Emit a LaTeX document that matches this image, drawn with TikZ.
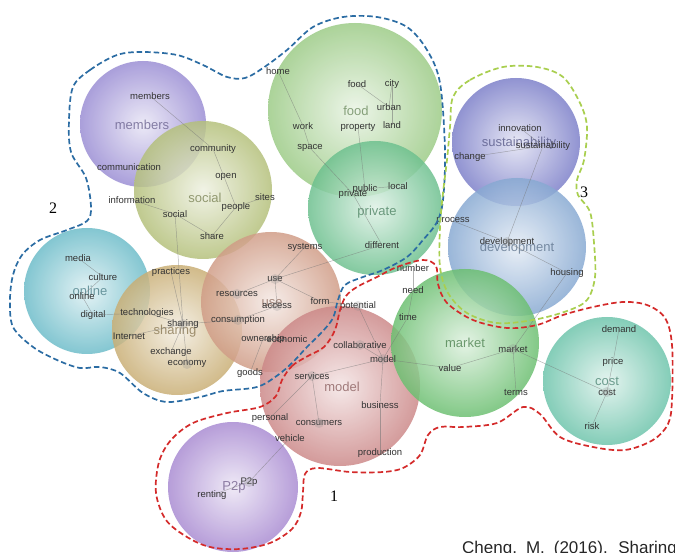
\documentclass[tikz,border=0pt]{standalone}
\usepackage{fontspec}
\setmainfont{Liberation Sans}
\newfontfamily\numfont{Liberation Serif}
\definecolor{cMem}{HTML}{9A8DD4}
\definecolor{cSoc}{HTML}{B4C07A}
\definecolor{cFood}{HTML}{9CCB86}
\definecolor{cPriv}{HTML}{6CC08E}
\definecolor{cSus}{HTML}{7C7FC9}
\definecolor{cDev}{HTML}{87A9D2}
\definecolor{cOnl}{HTML}{6CBCC9}
\definecolor{cShr}{HTML}{C9AE74}
\definecolor{cUse}{HTML}{D09C86}
\definecolor{cMod}{HTML}{CC8888}
\definecolor{cMkt}{HTML}{6BBF70}
\definecolor{cCost}{HTML}{6DC4AB}
\definecolor{cP2p}{HTML}{A98BD2}
\definecolor{dBlue}{HTML}{2B6CA3}
\definecolor{dRed}{HTML}{D42A2A}
\definecolor{dGreen}{HTML}{A9CF4F}
\tikzset{
  bub/.style 2 args={circle, inner sep=0pt, minimum size=#2*2pt, shade, inner color=#1!22!white, outer color=#1, fill opacity=0.84},
  lab/.style={font=\fontsize{9.5}{10}\selectfont, text=black!80, inner sep=0pt},
  big/.style={font=\fontsize{13}{14}\selectfont, inner sep=0pt, text=#1!65!black, text opacity=0.75},
  lnk/.style={draw=black!55, line width=0.45pt, opacity=0.55},
  hubdot/.style={fill=black!45, fill opacity=0.25},
  dsh/.style={line width=1.7pt, dash pattern=on 5.5pt off 3pt},
  num/.style={font=\numfont\fontsize{16}{18}\selectfont, inner sep=0pt},
}
\begin{document}
\begin{tikzpicture}[x=1pt, y=-1pt]
\useasboundingbox (0,0) rectangle (675,553);
\clip (0,0) rectangle (675,553);
\fill[white] (0,0) rectangle (675,553);
% bubbles
\node[bub={cFood}{87}] (Cfood) at (355,110) {};
\node[bub={cMem}{63}] (Cmem) at (143,124) {};
\node[bub={cSoc}{69}] (Csoc) at (203,190) {};
\node[bub={cPriv}{67}] (Cpriv) at (375,208) {};
\node[bub={cSus}{64}] (Csus) at (516,142) {};
\node[bub={cDev}{69}] (Cdev) at (517,247) {};
\node[bub={cOnl}{63}] (Conl) at (87,291) {};
\node[bub={cShr}{65}] (Cshr) at (177,330) {};
\node[bub={cUse}{70}] (Cuse) at (271,302) {};
\node[bub={cMod}{80}] (Cmod) at (340,386) {};
\node[bub={cMkt}{74}] (Cmkt) at (465,343) {};
\node[bub={cCost}{64}] (Ccost) at (607,381) {};
\node[bub={cP2p}{65}] (Cp2p) at (233,487) {};
% big labels
\node[big=cMem] (Bmem) at (142,125) {members};
\node[big=cSoc] (Bsoc) at (205,198) {social};
\node[big=cFood] (Bfood) at (356,111) {food};
\node[big=cPriv] (Bpriv) at (377,212) {private};
\node[big=cSus] (Bsus) at (519,143) {sustainability};
\node[big=cDev] (Bdev) at (517,248) {development};
\node[big=cOnl] (Bonl) at (90,291) {online};
\node[big=cShr] (Bshr) at (175,331) {sharing};
\node[big=cUse] (Buse) at (272,303) {use};
\node[big=cMod] (Bmod) at (342,387) {model};
\node[big=cMkt] (Bmkt) at (465,343) {market};
\node[big=cCost] (Bcost) at (607,381) {cost};
\node[big=cP2p] (Bp2p) at (234,487) {P2p};
% small labels
\node[lab] (m1) at (150,96) {members};
\node[lab] (comm) at (129,167) {communication};
\node[lab] (cmty) at (213,149) {community};
\node[lab] (open) at (226,177) {open};
\node[lab] (sites) at (265,197) {sites};
\node[lab] (people) at (236,207) {people};
\node[lab] (info) at (132,200) {information};
\node[lab] (socs) at (175,214) {social};
\node[lab] (share) at (212,236) {share};
\node[lab] (home) at (278,71) {home};
\node[lab] (foods) at (357,84) {food};
\node[lab] (city) at (392,84) {city};
\node[lab] (urban) at (389,107) {urban};
\node[lab] (land) at (392,125) {land};
\node[lab] (work) at (303,126) {work};
\node[lab] (prop) at (358,127) {property};
\node[lab] (space) at (310,148) {space};
\node[lab] (publ) at (365,189) {public};
\node[lab] (privs) at (353,194) {private};
\node[lab] (local) at (398,186) {local};
\node[lab] (diff) at (382,245) {different};
\node[lab] (innov) at (520,128) {innovation};
\node[lab] (suss) at (543,146) {sustainability};
\node[lab] (chg) at (470,157) {change};
\node[lab] (proc) at (453,221) {process};
\node[lab] (devs) at (507,242) {development};
\node[lab] (hous) at (567,273) {housing};
\node[lab] (media) at (78,258) {media};
\node[lab] (cult) at (103,277) {culture};
\node[lab] (onls) at (82,296) {online};
\node[lab] (digi) at (93,315) {digital};
\node[lab] (prac) at (171,272) {practices};
\node[lab] (tech) at (147,313) {technologies};
\node[lab] (shrs) at (183,324) {sharing};
\node[lab] (inet) at (129,336) {Internet};
\node[lab] (exch) at (171,352) {exchange};
\node[lab] (econ) at (187,364) {economy};
\node[lab] (syst) at (305,247) {systems};
\node[lab] (uses) at (275,279) {use};
\node[lab] (res) at (237,294) {resources};
\node[lab] (acc) at (277,306) {access};
\node[lab] (form) at (320,301) {form};
\node[lab] (cons) at (238,320) {consumption};
\node[lab] (own) at (263,339) {ownership};
\node[lab] (ecoc) at (287,339) {economic};
\node[lab] (goods) at (250,373) {goods};
\node[lab] (pot) at (358,306) {potential};
\node[lab] (coll) at (360,345) {collaborative};
\node[lab] (mods) at (383,359) {model};
\node[lab] (serv) at (312,376) {services};
\node[lab] (bus) at (380,405) {business};
\node[lab] (pers) at (270,418) {personal};
\node[lab] (cnsm) at (319,423) {consumers};
\node[lab] (veh) at (290,438) {vehicle};
\node[lab] (prod) at (380,453) {production};
\node[lab] (numb) at (413,268) {number};
\node[lab] (need) at (413,290) {need};
\node[lab] (time) at (408,317) {time};
\node[lab] (mkts) at (513,349) {market};
\node[lab] (val) at (450,368) {value};
\node[lab] (terms) at (516,392) {terms};
\node[lab] (dem) at (619,329) {demand};
\node[lab] (price) at (613,362) {price};
\node[lab] (costs) at (607,392) {cost};
\node[lab] (risk) at (592,426) {risk};
\node[lab] (p2ps) at (249,482) {P2p};
\node[lab] (rent) at (212,495) {renting};
% hub dots
\foreach \h in {uses,shrs,mods,serv,cons,res,pot,coll,acc,mkts,costs,devs,p2ps,econ,cnsm}
  \fill[hubdot] (\h.center) circle (5);
% links
\foreach \a/\b in {m1/cmty,cmty/people,info/socs,socs/share,share/people,people/sites,socs/shrs,
  media/cult,cult/onls,onls/digi,digi/tech,tech/shrs,prac/shrs,inet/shrs,exch/shrs,econ/shrs,shrs/cons,
  uses/syst,uses/res,uses/acc,uses/form,uses/diff,cons/acc,own/ecoc,goods/own,form/pot,pot/mods,coll/mods,
  serv/mods,mods/bus,bus/prod,serv/cnsm,serv/pers,mods/val,val/mkts,mkts/terms,mkts/costs,hous/mkts,
  numb/need,need/time,time/mods,home/work,work/space,space/privs,foods/urban,city/urban,city/land,
  prop/publ,publ/local,privs/diff,innov/suss,chg/suss,suss/devs,proc/devs,devs/hous,
  dem/price,price/costs,costs/risk,veh/p2ps,rent/p2ps}
  \draw[lnk] (\a.center) -- (\b.center);
% cluster outlines
\draw[dsh, dBlue] plot[smooth cycle, tension=0.55] coordinates {
 (73,87) (90,70) (117,55) (143,52) (177,55) (203,65) (227,77) (245,78) (263,68) (287,50)
 (313,27) (343,17) (377,17) (407,27) (427,50) (440,83) (445,150) (443,200) (437,222)
 (423,240) (407,257) (383,270) (363,277) (345,285) (338,300) (333,318) (322,332) (307,347)
 (293,362) (278,375) (257,387) (223,391) (200,397) (167,402) (143,393) (120,373) (100,367)
 (80,368) (57,360) (33,347) (13,327) (10,300) (13,275) (22,255) (40,240) (67,230) (87,221)
 (91,207) (86,178) (71,152) (69,120)};
\draw[dsh, dRed] plot[smooth cycle, tension=0.55] coordinates {
 (282,380) (292,366) (306,357) (324,347) (335,330) (340,310) (346,296) (357,287) (377,277)
 (397,267) (423,260) (436,266) (438,284) (447,303) (473,320) (507,328) (537,325) (563,315)
 (593,307) (623,302) (647,305) (665,318) (672,345) (672,400) (668,424) (653,440) (625,450)
 (593,447) (560,437) (540,414) (523,407) (497,423) (463,427) (440,427) (428,435) (420,455)
 (403,468) (383,472) (350,472) (317,468) (305,474) (303,492) (301,512) (292,529) (270,543)
 (240,549) (210,547) (187,537) (166,520) (156,493) (159,462) (171,440) (193,423) (227,413)
 (260,407) (276,396)};
\draw[dsh, dGreen] plot[smooth cycle, tension=0.55] coordinates {
 (453,97) (470,80) (503,67) (537,67) (563,77) (580,103) (587,127) (584,160) (577,180)
 (578,195) (590,212) (594,243) (595,277) (587,300) (567,311) (533,320) (497,323) (467,313)
 (448,293) (440,267) (440,227) (443,193) (447,160) (450,127)};
% cluster numbers
\node[num] (n1) at (334,496) {1};
\node[num] (n2) at (53,208) {2};
\node[num] (n3) at (584,192) {3};
% citation
\node[anchor=base west, inner sep=0pt, font=\fontsize{17}{20}\selectfont, text=black!85] (cite) at (462,553) {\spaceskip=9pt Cheng, M. (2016). Sharing};
\end{tikzpicture}
\end{document}
